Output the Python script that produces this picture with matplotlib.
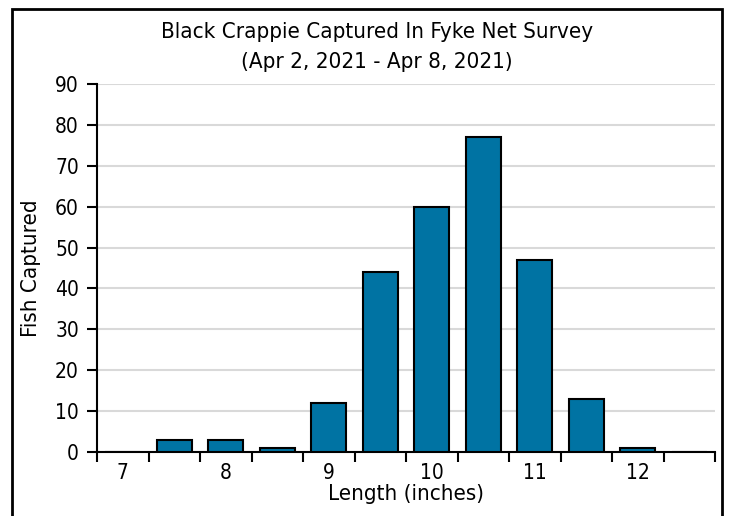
import numpy as np
import matplotlib.pyplot as plt
from matplotlib.patches import Rectangle

# 体長カテゴリ (inches) と捕獲数
lengths = ['7', '7.5', '8', '8.5', '9', '9.5', '10', '10.5', '11', '11.5', '12', '12.5']
counts = [0, 3, 3, 1, 12, 44, 60, 77, 47, 13, 1, 0]
tick_labels = ['7', '8', '9', '10', '11', '12']

plt.rcParams['font.family'] = ['DejaVu Sans']
plt.rcParams['font.stretch'] = 'condensed'

fig = plt.figure(figsize=(7.32, 5.16), dpi=100)
ax = fig.add_axes([97 / 732, 1 - 452 / 516, 618 / 732, 368 / 516])

x = np.arange(len(lengths))
ax.bar(x, counts, width=0.68, color='#0073a3', edgecolor='black', linewidth=1.5, zorder=3)

ax.set_xlim(-0.5, len(lengths) - 0.5)
ax.set_ylim(0, 90)
ax.set_yticks(np.arange(0, 91, 10))
ax.set_xticks(x[::2])
ax.set_xticklabels(tick_labels)
ax.set_xticks(np.arange(-0.5, len(lengths), 1.0), minor=True)
ax.tick_params(axis='x', which='major', length=0, pad=8, labelsize=15)
ax.tick_params(axis='x', which='minor', length=7, width=1.5, direction='out')
ax.tick_params(axis='y', length=7, width=1.5, direction='out', labelsize=15, pad=6)

ax.grid(axis='y', color='#d9d9d9', linewidth=1.5, zorder=0)
for s in ['top', 'right']:
    ax.spines[s].set_visible(False)
for s in ['left', 'bottom']:
    ax.spines[s].set_linewidth(1.5)

ax.set_xlabel('Length (inches)', fontsize=16, labelpad=1)
ax.set_ylabel('Fish Captured', fontsize=16, labelpad=10)

fig.text(377 / 732, 1 - 32 / 516, 'Black Crappie Captured In Fyke Net Survey',
         ha='center', va='center', fontsize=16)
fig.text(377 / 732, 1 - 62 / 516, '(Apr 2, 2021 - Apr 8, 2021)',
         ha='center', va='center', fontsize=16)

# 外枠
fig.patches.append(Rectangle((12 / 732, -0.1), 710 / 732, 1.1 - 9 / 516,
                             transform=fig.transFigure, fill=False,
                             edgecolor='black', linewidth=2))

fig.savefig('out.png', dpi=100)
